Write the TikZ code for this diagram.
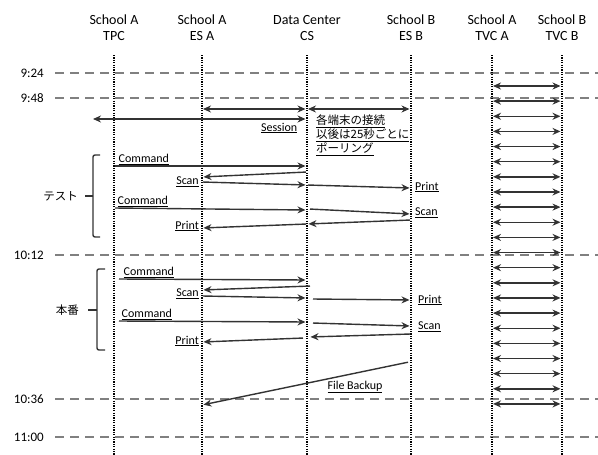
\documentclass[tikz,border=0pt]{standalone}
\usepackage{fontspec}
\setmainfont{Carlito}
\newfontfamily\jpfont{Noto Sans CJK JP}
\usetikzlibrary{arrows.meta, positioning}

\begin{document}
\begin{tikzpicture}[
  x=1pt, y=-1pt,
  head/.style={align=center, font=\fontsize{14}{16}\selectfont, inner sep=0pt},
  tlabel/.style={anchor=east, font=\fontsize{13}{15}\selectfont, inner sep=0pt},
  tline/.style={draw=black!50, line width=1.6pt, dash pattern=on 9pt off 6pt},
  life/.style={line width=1.2pt, dash pattern=on 1.2pt off 1.2pt},
  msg/.style={->, draw=black!80, line width=1.4pt, shorten >=1.5pt, shorten <=1pt},
  dmsg/.style={msg, <->},
  lab/.style={font=\fontsize{12}{14}\selectfont, inner sep=1pt},
  jlab/.style={font=\jpfont\fontsize{11.5}{14}\selectfont, inner sep=0pt},
  brk/.style={line width=1.4pt, draw=black!80, rounded corners=2pt},
  >={Stealth[length=8pt, width=7pt]}
]
  \useasboundingbox (0,0) rectangle (598,455);

  % Header
  \node[head] (tpc)  at (114,28) {School A\\TPC};
  \node[head] (esa)  at (202,28) {School A\\ES A};
  \node[head] (cs)   at (307,28) {Data Center\\CS};
  \node[head] (esb)  at (411,28) {School B\\ES B};
  \node[head] (tvca) at (492,28) {School A\\TVC A};
  \node[head] (tvcb) at (562,28) {School B\\TVC B};

  % Time lines
  \foreach \t/\y in {9:24/73, 9:48/98, 10:12/255, 10:36/399, 11:00/437} {
    \node[tlabel] (t\y) at (44,\y) {\t};
    \draw[tline] ([xshift=11pt]t\y.east) -- (t\y -| 598,0);
  }

  % Lifelines
  \foreach \n in {tpc,esa,cs,esb,tvca,tvcb}
    \draw[life] ([yshift=-27pt]\n.center) -- (\n |- 0,455);

  % Session
  \coordinate (sessl) at (92,119);
  \draw[dmsg] (esa |- 0,109) -- (cs |- 0,109);
  \draw[dmsg] (cs |- 0,109) -- (esb |- 0,109);
  \draw[dmsg] (sessl) -- (cs |- 0,119)
    node[lab, pos=1, anchor=east, xshift=-8pt, yshift=-9pt] (sess) {\underline{Session}};
  \node[jlab, anchor=north west, align=left]
    (poll) at (316,115) {\underline{各端末の接続}\\\underline{以後は25秒ごとに}\\\underline{ポーリング}};

  % TVC
  \foreach \i [evaluate=\i as \yy using 86+15.14*\i] in {0,...,21}
    \draw[dmsg] (tvca |- 0,\yy) -- (tvcb |- 0,\yy);

  % Test
  \draw[brk] (100,155) -- (93,155) -- (93,237) -- (100,237);
  \draw[brk] (93,196) -- (85,196);
  \node[jlab, anchor=east] (test) at (78,196) {テスト};

  \draw[msg] (tpc |- 0,166) -- (cs |- 0,166)
    node[lab, pos=0, above right, xshift=3pt] (cmd1) {\underline{Command}};
  \draw[msg] (cs |- 0,172) -- (esa |- 0,177);
  \node[lab, anchor=east, xshift=-2pt] (scan1) at (esa |- 0,182) {\underline{Scan}};
  \draw[msg] (esa |- 0,182) -- (cs |- 0,185);
  \draw[msg] (cs |- 0,185) -- (esb |- 0,188);
  \node[lab, anchor=west, xshift=3pt] (print1) at (esb |- 0,187) {\underline{Print}};
  \draw[msg] (tpc |- 0,208) -- (cs |- 0,210)
    node[lab, pos=0, above right, xshift=2pt] (cmd2) {\underline{Command}};
  \draw[msg] ([xshift=2pt]cs |- 0,209) -- (esb |- 0,214);
  \node[lab, anchor=west, xshift=3pt] (scan2) at (esb |- 0,213) {\underline{Scan}};
  \draw[msg] (esb |- 0,220) -- (cs |- 0,224);
  \draw[msg] (cs |- 0,224) -- (esa |- 0,228);
  \node[lab, anchor=east, xshift=-2pt] (print2) at (esa |- 0,226) {\underline{Print}};

  % Main
  \draw[brk] (105,269) -- (97,269) -- (97,350) -- (105,350);
  \draw[brk] (97,310) -- (88,310);
  \node[jlab, anchor=east] (main) at (79,310) {本番};

  \draw[msg] ([xshift=4pt]tpc |- 0,279) -- (cs |- 0,280)
    node[lab, pos=0, above right, xshift=4pt] (cmd3) {\underline{Command}};
  \draw[msg] ([xshift=4pt]cs |- 0,286) -- (esa |- 0,290);
  \node[lab, anchor=east, xshift=-2pt] (scan3) at (esa |- 0,294) {\underline{Scan}};
  \draw[msg] (esa |- 0,296) -- (cs |- 0,298);
  \draw[msg] ([xshift=5pt]cs |- 0,299) -- (esb |- 0,300);
  \node[lab, anchor=west, xshift=6pt] (print3) at (esb |- 0,300) {\underline{Print}};
  \draw[msg] ([xshift=4pt]tpc |- 0,321) -- (cs |- 0,322)
    node[lab, pos=0, above right, xshift=2pt] (cmd4) {\underline{Command}};
  \draw[msg] ([xshift=5pt]cs |- 0,323) -- (esb |- 0,326);
  \node[lab, anchor=west, xshift=6pt] (scan4) at (esb |- 0,327) {\underline{Scan}};
  \draw[msg] (esb |- 0,334) -- ([xshift=2pt]cs |- 0,337);
  \draw[msg] ([xshift=-3pt]cs |- 0,338) -- (esa |- 0,342);
  \node[lab, anchor=east, xshift=-2pt] (print4) at (esa |- 0,341) {\underline{Print}};

  % Backup
  \draw[msg] ([xshift=-2pt]esb |- 0,362) -- (esa |- 0,405);
  \node[lab] (backup) at (355,387) {\underline{File Backup}};
\end{tikzpicture}
\end{document}
